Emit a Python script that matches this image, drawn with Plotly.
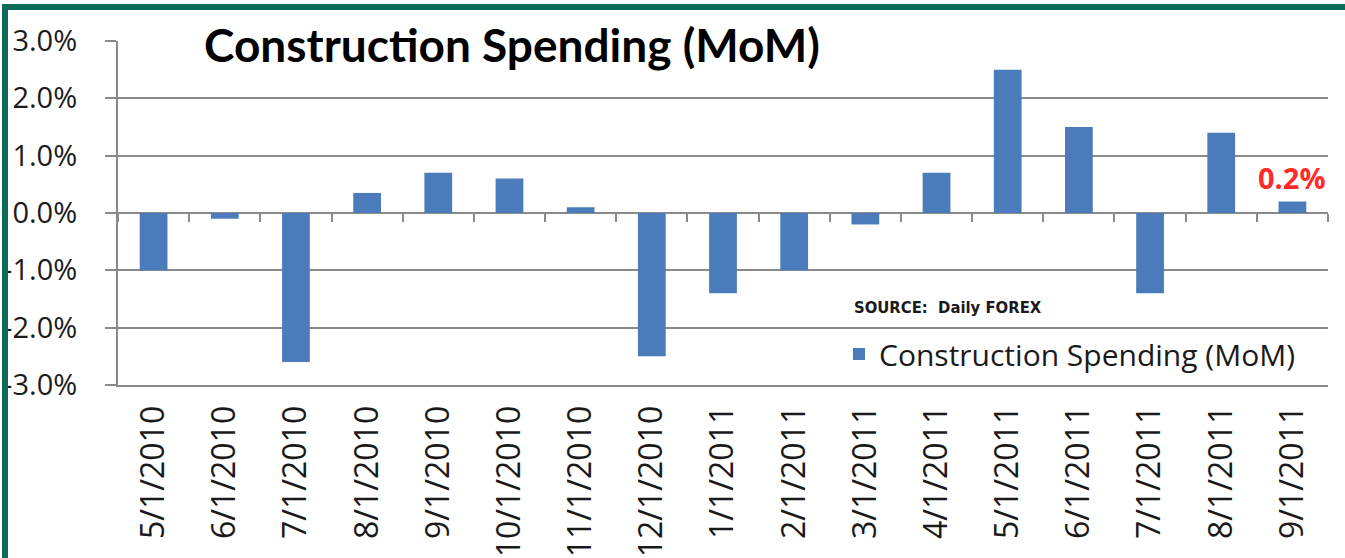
import plotly.graph_objects as go

months = ["5/1/2010", "6/1/2010", "7/1/2010", "8/1/2010", "9/1/2010", "10/1/2010",
          "11/1/2010", "12/1/2010", "1/1/2011", "2/1/2011", "3/1/2011", "4/1/2011",
          "5/1/2011", "6/1/2011", "7/1/2011", "8/1/2011", "9/1/2011"]
spending = [-1.0, -0.1, -2.6, 0.35, 0.7, 0.6, 0.1, -2.5, -1.4, -1.0, -0.2, 0.7,
            2.5, 1.5, -1.4, 1.4, 0.2]
y_tick_values = [-3, -2, -1, 0, 1, 2, 3]
y_tick_labels = ["-3.0%", "-2.0%", "-1.0%", "0.0%", "1.0%", "2.0%", "3.0%"]
series_name = "Construction Spending (MoM)"
title_text = "Construction Spending (MoM)"
source_text = "SOURCE:  Daily FOREX"
last_label = "0.2%"

W, H = 1345, 558
ML, MR, MT, MB = 118, 17, 41, 173
pw, ph = W - ML - MR, H - MT - MB

def px2x(px):
    return (px - ML) / pw

def py2y(py):
    return (H - MB - py) / ph

GRID = "#8a8a8a"
GREEN = "#0f6b59"
TXT = "#1a1a1a"
cat_range = [-0.5, len(months) - 0.5]

fig = go.Figure()
fig.add_trace(go.Bar(x=months, y=spending, name=series_name,
                     marker=dict(color="#4a7cbc", line=dict(width=0))))
# helper trace for the zero-line tick axis
fig.add_trace(go.Scatter(x=months, y=spending, xaxis="x2", mode="markers",
                         marker=dict(opacity=0), showlegend=False, hoverinfo="skip"))

fig.update_layout(
    width=W, height=H,
    margin=dict(l=ML, r=MR, t=MT, b=MB, autoexpand=False),
    paper_bgcolor="white", plot_bgcolor="white",
    bargap=0.61,
    showlegend=True,
    legend=dict(x=px2x(839), y=py2y(354), xanchor="left", yanchor="middle",
                bgcolor="rgba(0,0,0,0)",
                font=dict(family="Open Sans", size=30, color=TXT),
                itemwidth=30),
    xaxis=dict(type="category", range=cat_range, automargin=False, showgrid=False,
               showline=True, linecolor=GRID, linewidth=2, ticks="", tickangle=-90,
               tickfont=dict(family="Open Sans", size=32, color=TXT),
               ticklabelstandoff=6),
    xaxis2=dict(type="category", overlaying="x", matches="x", range=cat_range,
                automargin=False, anchor="free", position=0.5, side="bottom",
                showgrid=False, showline=False, ticks="outside",
                tickson="boundaries", ticklen=8, tickwidth=2, tickcolor=GRID,
                showticklabels=False),
    yaxis=dict(range=[y_tick_values[0], y_tick_values[-1]],
               tickmode="array", tickvals=y_tick_values, ticktext=y_tick_labels,
               automargin=False, showgrid=True, gridcolor=GRID, gridwidth=2,
               zeroline=True, zerolinecolor=GRID, zerolinewidth=2,
               showline=True, linecolor=GRID, linewidth=2,
               ticks="outside", ticklen=11, tickwidth=2, tickcolor=GRID,
               tickfont=dict(family="Open Sans", size=29, color=TXT),
               ticklabelstandoff=22),
    annotations=[
        dict(text=title_text, xref="paper", yref="paper", x=px2x(512), y=py2y(44),
             xanchor="center", yanchor="middle", showarrow=False, bgcolor="white",
             borderpad=4,
             font=dict(family="Lato", size=46, color="black", weight="bold")),
        dict(text=source_text, xref="paper", yref="paper", x=px2x(852), y=py2y(307),
             xanchor="left", yanchor="middle", showarrow=False,
             font=dict(family="Liberation Sans Narrow, DejaVu Sans Condensed, sans-serif",
                       size=16.5, color=TXT, weight="bold")),
        dict(text=last_label, x=months[-1], y=spending[-1], xref="x", yref="y",
             xanchor="center", yanchor="bottom", yshift=3, showarrow=False,
             font=dict(family="Open Sans", size=29, color="#ff2a2a", weight="bold")),
    ],
    shapes=[
        dict(type="line", xref="paper", yref="paper", x0=px2x(5), x1=px2x(5),
             y0=py2y(4), y1=py2y(H + 5), line=dict(color=GREEN, width=6)),
        dict(type="line", xref="paper", yref="paper", x0=px2x(2), x1=px2x(W + 5),
             y0=py2y(7), y1=py2y(7), line=dict(color=GREEN, width=6)),
    ],
)

fig.write_html("out.html", config={"displayModeBar": False},
               post_script="document.body.style.margin='0';")
